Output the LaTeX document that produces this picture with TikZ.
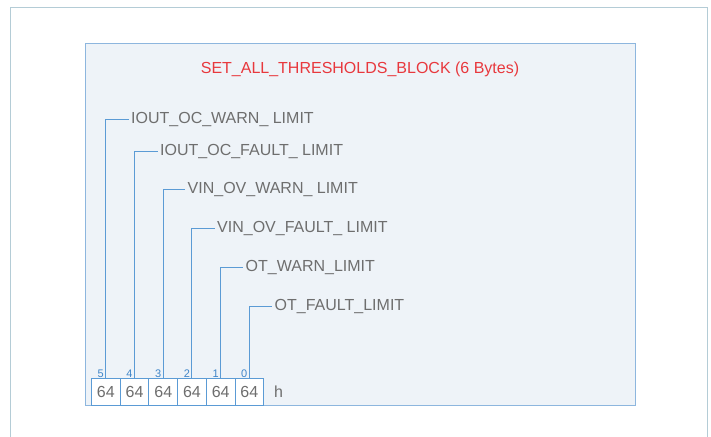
\documentclass[tikz,border=0pt]{standalone}
\usepackage{fontspec}
\setmainfont{Liberation Sans}
\definecolor{frameC}{HTML}{B4CCD6}
\definecolor{boxBorder}{HTML}{8DB6DE}
\definecolor{boxFill}{HTML}{EEF3F8}
\definecolor{titleC}{HTML}{E8383D}
\definecolor{labC}{HTML}{6E6E6E}
\definecolor{lineC}{HTML}{5B9BD5}
\definecolor{bitC}{HTML}{3F85C8}
\tikzset{
  lbl/.style={anchor=west,inner xsep=2.5pt,inner ysep=0pt,text height=11.5pt,text depth=3.5pt,font=\fontsize{16}{18}\selectfont,text=labC},
  bitbox/.style={draw=lineC,fill=white,line width=0.9pt,minimum width=28.7pt,minimum height=26.3pt,inner sep=0pt,font=\fontsize{16}{18}\selectfont,text=labC},
  bitnum/.style={anchor=south east,inner sep=0.8pt,font=\fontsize{11}{12}\selectfont,text=bitC},
  conn/.style={draw=lineC,line width=1pt}
}
\begin{document}
\begin{tikzpicture}[x=1pt,y=-1pt]
\useasboundingbox (0,0) rectangle (711,436);
\fill[white] (0,0) rectangle (711,436);
% outer frame
\draw[frameC,line width=1pt] (10,440) -- (10,7.5) -- (707,7.5) -- (707,440);
% inner block
\draw[boxBorder,fill=boxFill,line width=1pt] (85,44) rectangle (635,405);
\node[font=\fontsize{16}{18}\selectfont,text=titleC] (title) at (360,69.5) {SET\_ALL\_THRESHOLDS\_BLOCK (6 Bytes)};
% bit boxes
\foreach \i/\n in {0/5,1/4,2/3,3/2,4/1,5/0}{
  \node[bitbox] (b\n) at (105.85+\i*28.7,391.85) {64};
}
\node[anchor=west,font=\fontsize{16}{18}\selectfont,text=labC,inner sep=0pt] (hh) at (274,392) {h};
% labels
\node[lbl] (L5) at (128.5,119) {IOUT\_OC\_WARN\_ LIMIT};
\node[lbl] (L4) at (157.5,151) {IOUT\_OC\_FAULT\_ LIMIT};
\node[lbl] (L3) at (185,189.3) {VIN\_OV\_WARN\_ LIMIT};
\node[lbl] (L2) at (214.5,228.3) {VIN\_OV\_FAULT\_ LIMIT};
\node[lbl] (L1) at (243,267.7) {OT\_WARN\_LIMIT};
\node[lbl] (L0) at (272,306.7) {OT\_FAULT\_LIMIT};
\foreach \n in {5,4,3,2,1,0}{
  \draw[conn] (b\n.north) |- (L\n.west);
  \node[bitnum] (n\n) at ([xshift=-1pt]b\n.north) {\n};
}
\end{tikzpicture}
\end{document}
